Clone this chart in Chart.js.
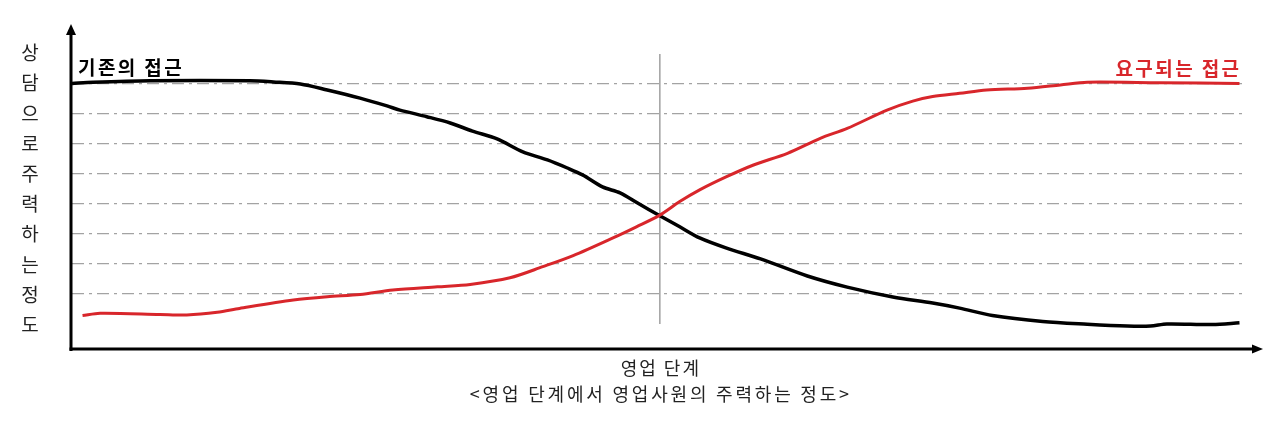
<!DOCTYPE html>
<html lang="ko">
<head>
<meta charset="utf-8">
<script src="https://cdn.jsdelivr.net/npm/chart.js@4.4.1/dist/chart.umd.min.js"></script>
<style>
html, body { margin: 0; padding: 0; background: #fff; }
</style>
</head>
<body>
<canvas id="stageChart" width="1280" height="421"></canvas>
<script>
// x: 영업 단계 (0~100), y: 주력하는 정도 (격자 1~8)
const existingX = [0, 1.8, 6.7, 15.2, 17.2, 19.5, 21.8, 24.6, 26.9, 28.0, 30.3, 32.3, 34.2, 36.3, 38.5, 40.6, 42.3, 43.6, 45.3, 46.8, 48.3, 50.2, 51.9, 53.6, 55.9, 58.8, 62.8, 66.2, 70.1, 73.5, 75.8, 78.6, 82.9, 86.7, 90.1, 92.1, 93.5, 97.4, 99.7];
const existingY = [8.02, 8.06, 8.11, 8.11, 8.07, 8.0, 7.8, 7.53, 7.27, 7.13, 6.91, 6.7, 6.43, 6.17, 5.74, 5.47, 5.2, 4.97, 4.57, 4.37, 4.03, 3.61, 3.24, 2.87, 2.53, 2.17, 1.6, 1.23, 0.9, 0.7, 0.53, 0.28, 0.08, -0.01, -0.07, -0.07, 0, -0.02, 0.04];

const requiredX = [0.9, 2.4, 7.5, 9.8, 12.4, 14.3, 18.9, 21.8, 24.6, 27.4, 31.2, 34.0, 37.4, 40.2, 42.8, 46.2, 48.2, 50.2, 51.9, 53.6, 55.9, 58.2, 61.1, 63.9, 66.2, 69.6, 71.8, 73.5, 75.8, 78.1, 81.6, 84.4, 86.7, 92.9, 99.7];
const requiredY = [0.28, 0.36, 0.32, 0.3, 0.39, 0.52, 0.8, 0.91, 0.98, 1.13, 1.24, 1.32, 1.54, 1.91, 2.28, 2.87, 3.24, 3.63, 4.08, 4.47, 4.91, 5.3, 5.69, 6.19, 6.52, 7.13, 7.43, 7.58, 7.69, 7.8, 7.86, 7.97, 8.06, 8.04, 8.02];

const gridLevels = [1, 2, 3, 4, 5, 6, 7, 8];
const midStage = 50.2;
const midRange = [0, 9];

const yAxisChars = ['상', '담', '으', '로', '주', '력', '하', '는', '정', '도'];
const xTitle = '영업 단계';
const caption = '<영업 단계에서 영업사원의 주력하는 정도>';
const leftLabel = '기존의 접근';
const rightLabel = '요구되는 접근';

const FONT = '"Noto Sans CJK KR", "Noto Sans", sans-serif';
const RED = '#d8262b';

function toPoints(xs, ys) {
  return xs.map((x, i) => ({ x: x, y: ys[i] }));
}

// 축 화살표와 글자
const decorPlugin = {
  id: 'decor',
  afterDatasetsDraw(chart) {
    const ctx = chart.ctx;
    const area = chart.chartArea;
    const xs = chart.scales.x;
    const ys = chart.scales.y;
    const ax = area.left - 1;
    const ay = area.bottom - 1;

    ctx.save();
    ctx.strokeStyle = '#000';
    ctx.fillStyle = '#000';
    ctx.lineWidth = 3;
    ctx.lineCap = 'butt';

    // y axis
    ctx.beginPath();
    ctx.moveTo(ax, ay + 2);
    ctx.lineTo(ax, area.top + 8);
    ctx.stroke();
    ctx.beginPath();
    ctx.moveTo(ax, area.top);
    ctx.lineTo(ax - 5, area.top + 11);
    ctx.lineTo(ax + 5, area.top + 11);
    ctx.closePath();
    ctx.fill();

    // x axis
    ctx.beginPath();
    ctx.moveTo(ax - 1.5, ay);
    ctx.lineTo(area.right + 12, ay);
    ctx.stroke();
    ctx.beginPath();
    ctx.moveTo(area.right + 20, ay);
    ctx.lineTo(area.right + 9, ay - 4.5);
    ctx.lineTo(area.right + 9, ay + 4.5);
    ctx.closePath();
    ctx.fill();

    // y title, one char per row
    ctx.fillStyle = '#222';
    ctx.font = '19px ' + FONT;
    ctx.textAlign = 'center';
    ctx.textBaseline = 'middle';
    yAxisChars.forEach((c, i) => {
      ctx.fillText(c, area.left - 42, area.top + 29 + i * 30.2);
    });

    // x title + caption
    const midX = xs.getPixelForValue(midStage);
    ctx.font = '18px ' + FONT;
    ctx.letterSpacing = '2px';
    ctx.fillText(xTitle, midX + 1, ay + 19);
    ctx.letterSpacing = '2.8px';
    ctx.fillText(caption, midX + 1, ay + 45);

    // series labels
    ctx.font = 'bold 19px ' + FONT;
    ctx.letterSpacing = '2.4px';
    ctx.textAlign = 'left';
    ctx.fillStyle = '#000';
    ctx.fillText(leftLabel, xs.getPixelForValue(0) + 6, ys.getPixelForValue(8) - 16);
    ctx.textAlign = 'right';
    ctx.fillStyle = RED;
    ctx.fillText(rightLabel, xs.getPixelForValue(99.7) + 2, ys.getPixelForValue(8) - 15);
    ctx.restore();
  }
};

new Chart(document.getElementById('stageChart'), {
  type: 'line',
  data: {
    datasets: [
      {
        label: rightLabel,
        data: toPoints(requiredX, requiredY),
        borderColor: RED,
        borderWidth: 3,
        pointRadius: 0,
        tension: 0.3
      },
      {
        label: leftLabel,
        data: toPoints(existingX, existingY),
        borderColor: '#000',
        borderWidth: 3.5,
        pointRadius: 0,
        tension: 0.3
      },
      {
        label: 'mid',
        data: [{ x: midStage, y: midRange[0] }, { x: midStage, y: midRange[1] }],
        borderColor: '#a0a0a0',
        borderWidth: 1.5,
        pointRadius: 0
      }
    ]
  },
  options: {
    responsive: false,
    animation: false,
    devicePixelRatio: 1,
    layout: { padding: { left: 72, right: 37, top: 24, bottom: 71 } },
    plugins: {
      legend: { display: false },
      tooltip: { enabled: false }
    },
    scales: {
      x: { type: 'linear', min: 0, max: 100, display: false },
      y: {
        type: 'linear',
        min: -26 / 30,
        max: 10,
        afterBuildTicks: s => { s.ticks = gridLevels.map(v => ({ value: v })); },
        afterFit: s => { s.width = 0; },
        ticks: { display: false },
        grid: { color: '#a3a3a3', lineWidth: 1.3, drawTicks: false },
        border: { display: false, dash: [12, 5, 3, 5] }
      }
    }
  },
  plugins: [decorPlugin]
});
</script>
</body>
</html>
